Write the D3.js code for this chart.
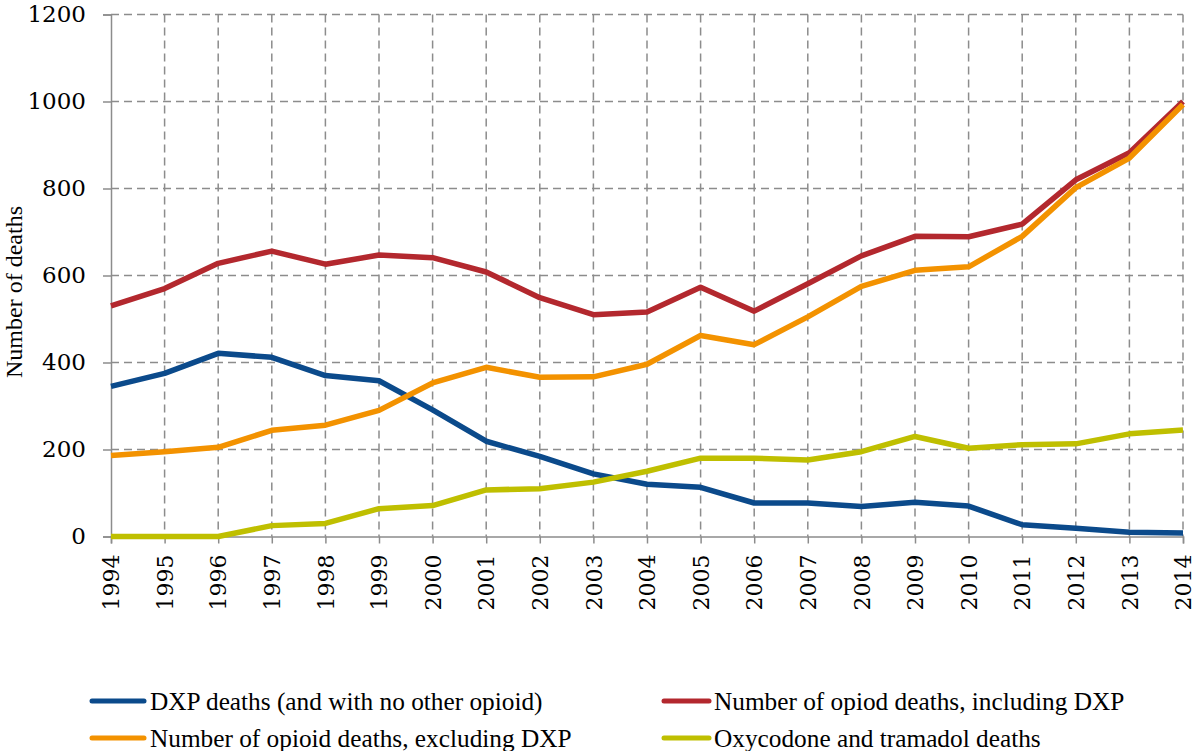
<!DOCTYPE html>
<html>
<head>
<meta charset="utf-8">
<script src="https://cdn.jsdelivr.net/npm/d3@7"></script>
<style>
  body { margin: 0; background: #fff; }
  svg text { font-family: "Liberation Serif", serif; fill: #000; }
</style>
</head>
<body>
<div id="chart"></div>
<script>
// Jahre und Werte
const years = d3.range(1994, 2015);
const dxpDeaths = [345, 375, 421, 412, 370, 358, 291, 219, 184, 144, 120, 113, 77, 77, 69, 79, 70, 27, 19, 10, 8];
const opioidInclDxp = [530, 570, 628, 656, 626, 647, 641, 608, 549, 510, 516, 573, 518, 581, 645, 690, 689, 718, 820, 882, 1000];
const opioidExclDxp = [186, 195, 205, 244, 256, 290, 353, 389, 366, 367, 396, 462, 441, 505, 575, 612, 620, 690, 802, 870, 993];
const oxyTramadol = [0, 0, 0, 25, 30, 64, 71, 107, 110, 125, 150, 180, 180, 176, 195, 230, 203, 211, 213, 236, 245];
const yTicks = [0, 200, 400, 600, 800, 1000, 1200];

const series = [
  { name: "DXP deaths (and with no other opioid)", values: dxpDeaths, color: "#0b4a8b" },
  { name: "Number of opiod deaths, including DXP", values: opioidInclDxp, color: "#b3282e" },
  { name: "Number of opioid deaths, excluding DXP", values: opioidExclDxp, color: "#f39200" },
  { name: "Oxycodone and tramadol deaths", values: oxyTramadol, color: "#bfbf00" }
];

const width = 1196, height = 751;
const svg = d3.select("#chart").append("svg")
  .attr("width", width)
  .attr("height", height);

const xScale = d3.scaleLinear().domain([1994, 2014]).range([111, 1183]);
const yScale = d3.scaleLinear().domain([0, 1200]).range([536.5, 14.5]);

// Gitterlinien (gestrichelt)
svg.append("g").selectAll("line")
  .data(yTicks.filter(d => d > 0))
  .join("line")
  .attr("x1", xScale(1994)).attr("x2", xScale(2014))
  .attr("y1", d => yScale(d)).attr("y2", d => yScale(d))
  .attr("stroke", "#8c8c8c").attr("stroke-width", 1.5)
  .attr("stroke-dasharray", "8,5");

svg.append("g").selectAll("line")
  .data(years.slice(1))
  .join("line")
  .attr("x1", d => xScale(d)).attr("x2", d => xScale(d))
  .attr("y1", yScale(1200)).attr("y2", yScale(0))
  .attr("stroke", "#8c8c8c").attr("stroke-width", 1.5)
  .attr("stroke-dasharray", "8,5");

// Achsen
const yAxis = d3.axisLeft(yScale).tickValues(yTicks).tickFormat(d3.format("d")).tickSize(8).tickPadding(17);
const gy = svg.append("g").attr("transform", `translate(${xScale(1994)},0)`).call(yAxis);
gy.select(".domain").attr("stroke", "#8c8c8c").attr("stroke-width", 1.5);
gy.selectAll(".tick line").attr("stroke", "#8c8c8c").attr("stroke-width", 1.5);
gy.selectAll(".tick text").style("font-size", "23px").style("font-family", "DejaVu Serif, serif");

const xAxis = d3.axisBottom(xScale).tickValues(years).tickFormat(d3.format("d")).tickSize(7);
const gx = svg.append("g").attr("transform", `translate(0,${yScale(0)})`).call(xAxis);
gx.select(".domain").attr("stroke", "#8c8c8c").attr("stroke-width", 1.5);
gx.selectAll(".tick line").attr("stroke", "#8c8c8c").attr("stroke-width", 1.5);
gx.selectAll(".tick text")
  .style("font-size", "22px").style("font-family", "DejaVu Serif, serif")
  .attr("transform", "rotate(-90)")
  .attr("text-anchor", "end")
  .attr("x", -18).attr("y", 0).attr("dy", "0.35em");

// Achsentitel
svg.append("text")
  .attr("transform", "translate(22, 292) rotate(-90)")
  .attr("text-anchor", "middle")
  .style("font-size", "24px")
  .text("Number of deaths");

// Linien
const line = d3.line()
  .x((d, i) => xScale(years[i]))
  .y(d => yScale(d));

svg.append("g").selectAll("path")
  .data(series)
  .join("path")
  .attr("d", d => line(d.values))
  .attr("fill", "none")
  .attr("stroke", d => d.color)
  .attr("stroke-width", 5.5)
  .attr("stroke-linejoin", "round");

// Legende: [x Linienanfang, x Linienende, x Text, y]
const legendPos = [[92, 144, 150, 701], [664, 709, 714, 701], [92, 144, 150, 738], [664, 709, 714, 738]];
const legend = svg.append("g").selectAll("g")
  .data(series)
  .join("g")
  .attr("transform", (d, i) => `translate(0,${legendPos[i][3]})`);

legend.append("line")
  .attr("x1", (d, i) => legendPos[i][0]).attr("x2", (d, i) => legendPos[i][1])
  .attr("stroke", d => d.color).attr("stroke-width", 5)
  .attr("stroke-linecap", "round");

legend.append("text")
  .attr("x", (d, i) => legendPos[i][2]).attr("dy", "0.35em")
  .style("font-size", "25.3px")
  .text(d => d.name);
</script>
</body>
</html>
